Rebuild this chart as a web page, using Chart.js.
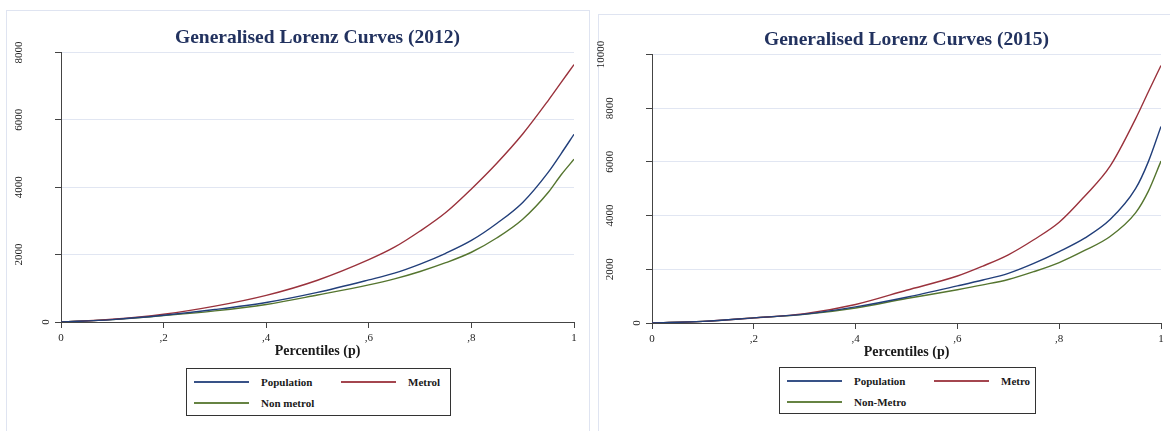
<!DOCTYPE html>
<html>
<head>
<meta charset="utf-8">
<script src="https://cdn.jsdelivr.net/npm/chart.js@4.4.1/dist/chart.umd.min.js"></script>
<style>
   body { margin: 0; width: 1170px; height: 431px; overflow: hidden; background: #fff; position: relative; font-family: "Liberation Serif", serif; }
   .panel { position: absolute; border: 1px solid #dfe4f1; border-bottom: none; height: 440px; }
   canvas { position: absolute; top: 0; }
   .legend { position: absolute; border: 1px solid #333; background: #fff; }
   .legend .swatch { position: absolute; width: 55px; height: 2px; opacity: 0.9; }
   .legend .label { position: absolute; font-weight: bold; font-size: 11px; line-height: 14px; color: #1a1a1a; white-space: nowrap; }
</style>
</head>
<body>
<div class="panel" style="left:6px; top:10px; width:582px;"></div>
<div class="panel" style="left:598px; top:14px; width:590px;"></div>
<canvas id="chart2012" width="595" height="431" style="left:0px;"></canvas>
<canvas id="chart2015" width="575" height="431" style="left:595px;"></canvas>
<div class="legend" id="legend2012" style="left:186px; top:368px; width:263px; height:46px;"></div>
<div class="legend" id="legend2015" style="left:779px; top:367px; width:255px; height:45px;"></div>
<script>
// Percentile grid shared by both years
const pctl = [0, 0.1, 0.2, 0.3, 0.4, 0.5, 0.6, 0.65, 0.7, 0.75, 0.8, 0.85, 0.9, 0.95, 0.975, 1];

// 2012 generalised Lorenz ordinates
const pop2012 = [0, 70, 200, 370, 580, 880, 1250, 1450, 1720, 2040, 2420, 2930, 3550, 4450, 5000, 5570];
const metro2012 = [0, 80, 230, 470, 790, 1240, 1850, 2220, 2700, 3250, 3950, 4720, 5580, 6580, 7110, 7640];
const nonMetro2012 = [0, 70, 190, 330, 520, 800, 1100, 1280, 1500, 1760, 2070, 2500, 3050, 3850, 4370, 4830];

// 2015 generalised Lorenz ordinates
const pop2015 = [0, 60, 190, 330, 600, 960, 1380, 1600, 1850, 2220, 2660, 3160, 3850, 5000, 6000, 7320];
const metro2015 = [0, 60, 190, 350, 690, 1220, 1750, 2120, 2540, 3100, 3750, 4720, 5840, 7600, 8600, 9590];
const nonMetro2015 = [0, 60, 190, 320, 560, 910, 1240, 1420, 1620, 1910, 2250, 2700, 3220, 4100, 4900, 6030];

const names2012 = ["Population", "Metrol", "Non metrol"];
const names2015 = ["Population", "Metro", "Non-Metro"];
const lineColors = ["#223f7a", "#9a323c", "#55752f"];

const xTicks = [0, 0.2, 0.4, 0.6, 0.8, 1];
const xTickLabels = ["0", ",2", ",4", ",6", ",8", "1"];

const serif = '"Liberation Serif", serif';

// y labels are drawn rotated, set back from the axis like Stata does
const rotatedYLabels = {
   id: 'rotatedYLabels',
   afterDraw(chart) {
      const scale = chart.scales.y;
      const ctx = chart.ctx;
      ctx.save();
      ctx.font = '11px ' + serif;
      ctx.fillStyle = '#222';
      ctx.textAlign = 'center';
      ctx.textBaseline = 'middle';
      scale.ticks.forEach(tick => {
         const label = String(tick.value);
         const w = ctx.measureText(label).width;
         const x = chart.chartArea.left - 6 - 1.65 * w;
         const y = scale.getPixelForValue(tick.value);
         ctx.save();
         ctx.translate(x, y);
         ctx.rotate(-Math.PI / 2);
         ctx.fillText(label, 0, 0);
         ctx.restore();
      });
      ctx.restore();
   }
};

function makeDataset(label, values, color) {
   return {
      label: label,
      data: pctl.map((p, i) => ({ x: p, y: values[i] })),
      borderColor: color,
      borderWidth: 1.4,
      pointRadius: 0,
      fill: false,
      cubicInterpolationMode: 'monotone'
   };
}

function makeChart(canvasId, title, series, names, cfg) {
   const ctx = document.getElementById(canvasId).getContext('2d');
   return new Chart(ctx, {
      type: 'line',
      data: {
         datasets: series.map((s, i) => makeDataset(names[i], s, lineColors[i]))
      },
      options: {
         responsive: false,
         animation: false,
         layout: { padding: cfg.padding },
         plugins: {
            legend: { display: false },
            tooltip: { enabled: false },
            title: {
               display: true,
               text: title,
               fullSize: false,
               color: '#22325f',
               font: { family: serif, size: 19.5, weight: 'bold', lineHeight: 1.1 },
               padding: cfg.titlePadding
            }
         },
         scales: {
            x: {
               type: 'linear',
               min: 0,
               max: 1,
               afterBuildTicks: scale => { scale.ticks = xTicks.map(v => ({ value: v })); },
               afterFit: scale => { scale.height = 38; },
               ticks: {
                  callback: (v) => xTickLabels[xTicks.indexOf(v)],
                  color: '#222',
                  font: { family: serif, size: 11 },
                  padding: 4,
                  maxRotation: 0,
                  autoSkip: false
               },
               grid: { drawOnChartArea: false, color: '#444', tickColor: '#444', tickLength: 6 },
               border: { color: '#444', width: 1 },
               title: {
                  display: true,
                  text: 'Percentiles (p)',
                  color: '#1a1a1a',
                  font: { family: serif, size: 14, weight: 'bold' },
                  padding: { top: 0, bottom: 0 }
               }
            },
            y: {
               min: 0,
               max: cfg.yMax,
               afterFit: scale => { scale.width = cfg.yWidth; },
               ticks: { stepSize: 2000, display: false },
               grid: { color: '#e1e6f2', tickColor: '#444', tickLength: 6 },
               border: { color: '#444', width: 1 }
            }
         }
      },
      plugins: [rotatedYLabels]
   });
}

// Boxed two-column legend under each chart
function buildLegend(id, names) {
   const box = document.getElementById(id);
   const slots = [[7, 12], [154, 12], [7, 33]];
   names.forEach((name, i) => {
      const [x, y] = slots[i];
      const sw = document.createElement('div');
      sw.className = 'swatch';
      sw.style.left = x + 'px';
      sw.style.top = y + 'px';
      sw.style.background = lineColors[i];
      const lb = document.createElement('div');
      lb.className = 'label';
      lb.style.left = (x + 67) + 'px';
      lb.style.top = (y - 6) + 'px';
      lb.textContent = name;
      box.appendChild(sw);
      box.appendChild(lb);
   });
}

makeChart('chart2012', 'Generalised Lorenz Curves (2012)', [pop2012, metro2012, nonMetro2012], names2012, {
   padding: { left: 6, right: 21, top: 0, bottom: 71 },
   titlePadding: { top: 27, bottom: 4 },
   yMax: 8000,
   yWidth: 55
});

makeChart('chart2015', 'Generalised Lorenz Curves (2015)', [pop2015, metro2015, nonMetro2015], names2015, {
   padding: { left: 6, right: 9, top: 0, bottom: 70 },
   titlePadding: { top: 29, bottom: 4 },
   yMax: 10000,
   yWidth: 51
});

buildLegend('legend2012', names2012);
buildLegend('legend2015', names2015);
</script>
</body>
</html>
